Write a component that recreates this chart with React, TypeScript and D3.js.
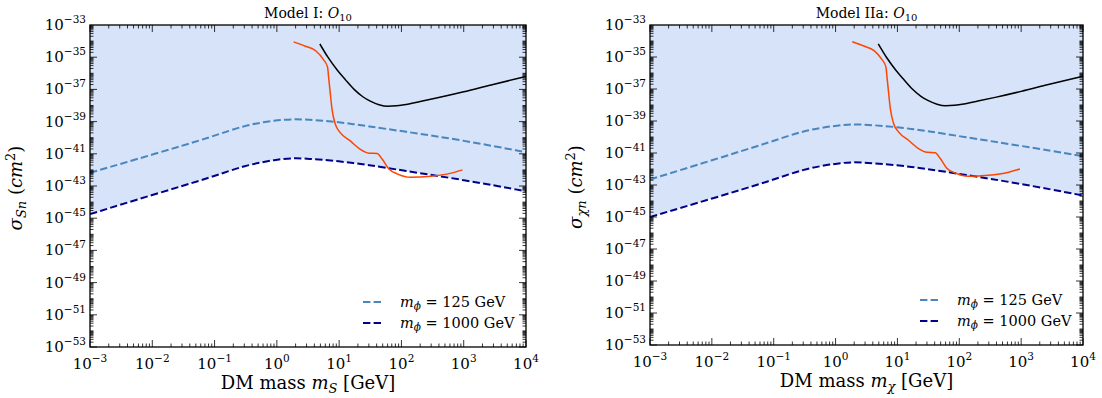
import React from 'react';
import * as d3 from 'd3';

// mass grid (GeV) shared by the mediator curves
const massGrid = [1e-3, 1e-2, 1e-1, 0.3, 1, 1.8, 3, 10, 30, 100, 1e3, 1e4];

// Model I, cross sections (cm^2) on massGrid
const modelI125 = [6.6e-43, 8.9e-42, 1.26e-40, 6.0e-40, 1.25e-39, 1.41e-39, 1.35e-39, 9.5e-40, 5.0e-40, 2.6e-40, 6.8e-41, 1.25e-41];
const modelI1000 = [1.78e-45, 2.8e-44, 4.0e-43, 1.9e-42, 4.5e-42, 5.4e-42, 5.1e-42, 3.5e-42, 2.0e-42, 9.5e-43, 2.4e-43, 4.7e-44];

// Model IIa
const modelIIa125 = [2.2e-43, 3.5e-42, 5.6e-41, 2.5e-40, 5.2e-40, 6.3e-40, 6.0e-40, 4.2e-40, 2.4e-40, 1.12e-40, 2.8e-41, 6.3e-42];
const modelIIa1000 = [1.0e-45, 1.4e-44, 2.1e-43, 1.0e-42, 2.2e-42, 2.7e-42, 2.5e-42, 1.78e-42, 1.0e-42, 5.0e-43, 1.2e-43, 2.2e-44];

// experimental limits (same in both panels)
const blackMass = [4.9, 6.6, 9.3, 12.6, 17.4, 24, 31.6, 43.6, 60, 83, 110, 200, 380, 1000, 2750, 1e4];
const blackSigma = [6.6e-35, 1.0e-35, 1.6e-36, 4.0e-37, 1.0e-37, 3.5e-38, 1.86e-38, 1.12e-38, 8.9e-39, 9.5e-39, 1.12e-38, 1.78e-38, 3.0e-38, 7.1e-38, 1.9e-37, 6.3e-37];
const orangeMass = [1.86, 2.8, 4.2, 5.6, 6.5, 6.8, 7.1, 7.7, 8.7, 10.5, 15.1, 21.9, 30.2, 40.7, 49, 63, 87, 141, 295, 631, 955];
const orangeSigma = [8.9e-35, 5.0e-35, 2.5e-35, 7.1e-36, 2.5e-36, 5.0e-37, 1.0e-37, 5.6e-39, 6.8e-40, 2.0e-40, 6.3e-41, 1.9e-41, 1.1e-41, 1.05e-41, 4.7e-42, 1.12e-42, 5.5e-43, 3.5e-43, 4.0e-43, 6.3e-43, 1.0e-42];

const xTickExps = [-3, -2, -1, 0, 1, 2, 3, 4];
const yTickExps = [-53, -51, -49, -47, -45, -43, -41, -39, -37, -35, -33];
const legendMasses = ['125', '1000'];

const FONT = 'DejaVu Serif';
const LIGHT = '#4a86bd';
const DARK = '#00008b';

type Pt = [number, number];
const zip = (a: number[], b: number[]): Pt[] => a.map((v, i) => [v, b[i]]);

function Panel(props: {
  left: number; right: number; top: number; bottom: number;
  title: string; sym: string; light: number[]; dark: number[];
}) {
  const { left, right, top, bottom, title, sym, light, dark } = props;
  const x = d3.scaleLog().domain([1e-3, 1e4]).range([left, right]);
  const y = d3.scaleLog().domain([1e-53, 1e-33]).range([bottom, top]);
  const line = d3.line<Pt>().x(d => x(d[0])).y(d => y(d[1])).curve(d3.curveMonotoneX);
  const smooth = d3.line<Pt>().x(d => x(d[0])).y(d => y(d[1])).curve(d3.curveBasis);
  const area = d3.area<Pt>().x(d => x(d[0])).y0(top).y1(d => y(d[1])).curve(d3.curveBasis);

  const ticks: JSX.Element[] = [];
  // x ticks, bottom and top
  xTickExps.forEach((e, i) => {
    const px = x(Math.pow(10, e));
    ticks.push(<line key={'xM' + e} x1={px} x2={px} y1={bottom} y2={bottom - 7} />);
    ticks.push(<line key={'xMt' + e} x1={px} x2={px} y1={top} y2={top + 7} />);
    if (i < xTickExps.length - 1) {
      for (let j = 2; j <= 9; j++) {
        const pm = x(j * Math.pow(10, e));
        ticks.push(<line key={`xm${e}_${j}`} x1={pm} x2={pm} y1={bottom} y2={bottom - 3.5} />);
        ticks.push(<line key={`xmt${e}_${j}`} x1={pm} x2={pm} y1={top} y2={top + 3.5} />);
      }
    }
  });
  // y ticks, left and right: major on labelled decades, minor elsewhere
  for (let e = -53; e < -33; e++) {
    for (let j = 1; j <= 9; j++) {
      const py = y(j * Math.pow(10, e));
      const len = j === 1 && e % 2 !== 0 ? 7 : 3.5;
      ticks.push(<line key={`y${e}_${j}`} x1={left} x2={left + len} y1={py} y2={py} />);
      ticks.push(<line key={`yr${e}_${j}`} x1={right} x2={right - len} y1={py} y2={py} />);
    }
  }

  const cx = (left + right) / 2;
  const cy = (top + bottom) / 2;

  return (
    <g>
      <path d={area(zip(massGrid, dark)) || ''} fill="#d6e3f8" />
      <path d={smooth(zip(massGrid, light)) || ''} fill="none" stroke={LIGHT} strokeWidth={2} strokeDasharray="7.4,3.2" />
      <path d={smooth(zip(massGrid, dark)) || ''} fill="none" stroke={DARK} strokeWidth={2} strokeDasharray="7.4,3.2" />
      <path d={line(zip(blackMass, blackSigma)) || ''} fill="none" stroke="#000" strokeWidth={1.5} />
      <path d={line(zip(orangeMass, orangeSigma)) || ''} fill="none" stroke="#ff4500" strokeWidth={1.5} />
      <g stroke="#000" strokeWidth={0.8}>{ticks}</g>
      <rect x={left} y={top} width={right - left} height={bottom - top} fill="none" stroke="#000" strokeWidth={1.3} />

      {/* tick labels */}
      <g fontFamily={FONT} fontSize={15} fill="#000">
        {xTickExps.map(e => (
          <text key={'xl' + e} x={x(Math.pow(10, e))} y={bottom + 22} textAnchor="middle">
            10<tspan dy={-7} fontSize={10.5}>{e < 0 ? '\u2212' + (-e) : String(e)}</tspan>
          </text>
        ))}
        {yTickExps.map(e => (
          <text key={'yl' + e} x={left - 4} y={y(Math.pow(10, e)) + 5} textAnchor="end">
            10<tspan dy={-7} fontSize={10.5}>{'\u2212' + (-e)}</tspan>
          </text>
        ))}
      </g>

      {/* title */}
      <text x={cx} y={top - 7} textAnchor="middle" fontFamily={FONT} fontSize={14}>
        {title}<tspan fontStyle="italic">O</tspan><tspan dy={3} fontSize={10}>10</tspan>
      </text>

      {/* x label */}
      <text x={cx} y={bottom + 42} textAnchor="middle" fontFamily={FONT} fontSize={18}>
        DM mass <tspan fontStyle="italic">m</tspan><tspan dy={4} fontSize={13} fontStyle="italic">{sym}</tspan><tspan dy={-4}> [GeV]</tspan>
      </text>

      {/* y label */}
      <text transform={`translate(${left - 68},${cy + 2}) rotate(-90)`} textAnchor="middle" fontFamily={FONT} fontSize={18}>
        <tspan fontStyle="italic">σ</tspan><tspan dy={4} fontSize={13} fontStyle="italic">{sym}n</tspan><tspan dy={-4}> (</tspan><tspan fontStyle="italic">cm</tspan><tspan dy={-7} fontSize={13}>2</tspan><tspan dy={7}>)</tspan>
      </text>

      {/* legend */}
      {legendMasses.map((m, i) => {
        const ly = bottom - 45 + i * 21;
        return (
          <g key={'lg' + m}>
            <line x1={right - 163} x2={right - 143} y1={ly} y2={ly} stroke={i === 0 ? LIGHT : DARK} strokeWidth={2} strokeDasharray="7.4,3.2" />
            <text x={right - 126} y={ly + 5} fontFamily={FONT} fontSize={14.5}>
              <tspan fontStyle="italic">m</tspan><tspan dy={3} fontSize={10.5} fontStyle="italic">ϕ</tspan><tspan dy={-3}> = {m} GeV</tspan>
            </text>
          </g>
        );
      })}
    </g>
  );
}

export default function App() {
  return (
    <svg width={1102} height={398} style={{ position: 'absolute', left: 0, top: 0, background: '#fff' }}>
      <Panel left={90} right={526} top={25} bottom={347} title="Model I: " sym="S" light={modelI125} dark={modelI1000} />
      <Panel left={650} right={1083} top={25} bottom={345} title="Model IIa: " sym="χ" light={modelIIa125} dark={modelIIa1000} />
    </svg>
  );
}
